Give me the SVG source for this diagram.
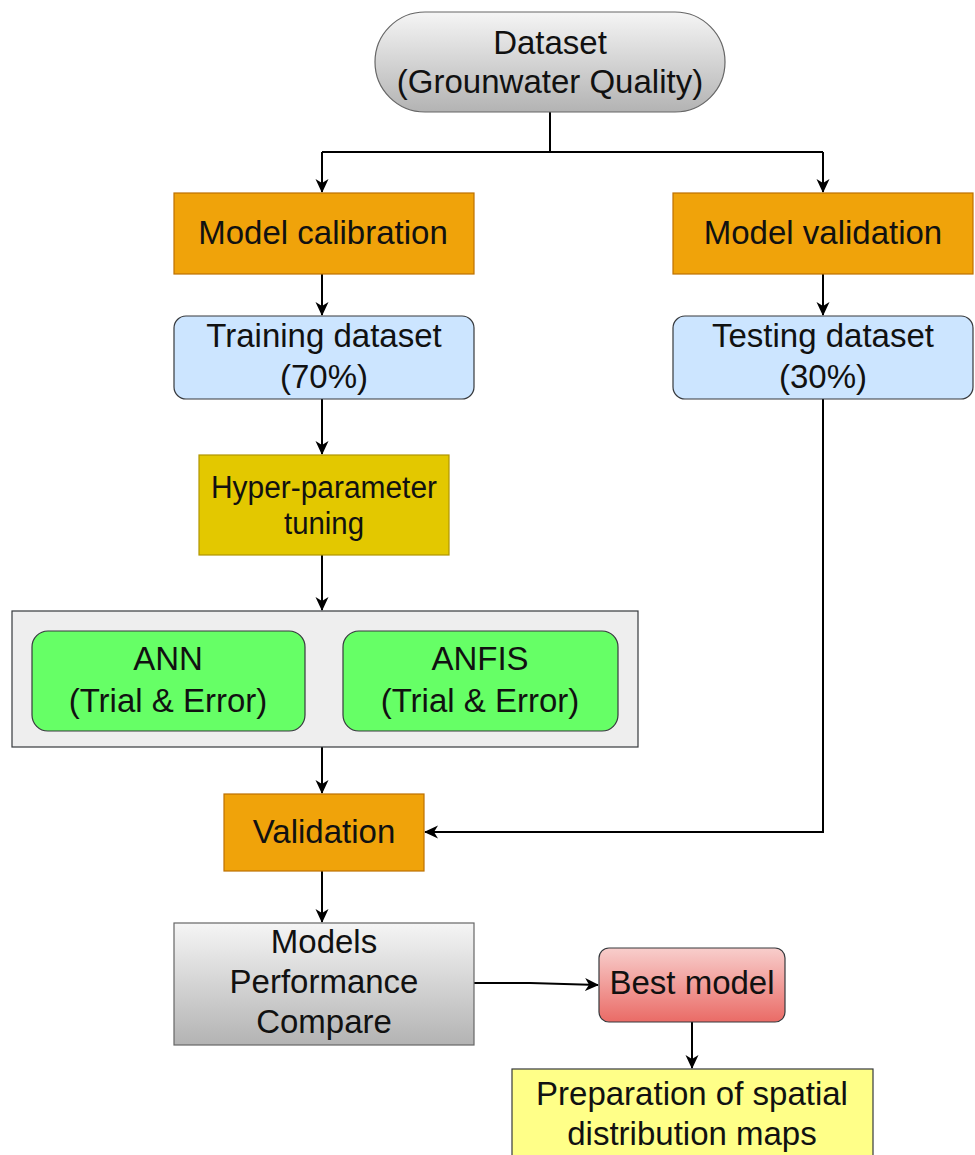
<svg xmlns="http://www.w3.org/2000/svg" width="975" height="1155" viewBox="0 0 975 1155">
<style>
text{font-family:"Liberation Sans",Arial,sans-serif;font-size:33px;fill:#111;text-anchor:middle}
.c{fill:none;stroke:#000;stroke-width:2}
.orange{fill:#f0a30a;stroke:#bd7000;stroke-width:1.2}
.blue{fill:#cce5ff;stroke:#36393d;stroke-width:1.2}
.green{fill:#66ff66;stroke:#36393d;stroke-width:1.2}
</style>
<defs>
<marker id="ah" markerUnits="userSpaceOnUse" markerWidth="15" markerHeight="14" refX="13" refY="6.5" orient="auto" viewBox="0 0 15 13">
<path d="M0,0 L14,6.5 L0,13 L4,6.5 z" fill="#000"/>
</marker>
<linearGradient id="gray" x1="0" y1="0" x2="0" y2="1"><stop offset="0" stop-color="#f5f5f5"/><stop offset="1" stop-color="#b3b3b3"/></linearGradient>
<linearGradient id="red" x1="0" y1="0" x2="0" y2="1"><stop offset="0" stop-color="#f8cecc"/><stop offset="1" stop-color="#ea6b66"/></linearGradient>
</defs>
<g id="connectors">
<path class="c" d="M550,112 V152 M322,152 H823"/>
<path class="c" d="M322,152 V192" marker-end="url(#ah)"/>
<path class="c" d="M823,152 V192" marker-end="url(#ah)"/>
<path class="c" d="M322,274 V315" marker-end="url(#ah)"/>
<path class="c" d="M823,274 V315" marker-end="url(#ah)"/>
<path class="c" d="M322,399 V454" marker-end="url(#ah)"/>
<path class="c" d="M322,555 V610" marker-end="url(#ah)"/>
<path class="c" d="M322,747 V793" marker-end="url(#ah)"/>
<path class="c" d="M823,399 V832 H425" marker-end="url(#ah)"/>
<path class="c" d="M322,871 V922" marker-end="url(#ah)"/>
<path class="c" d="M474,983 H530 L598,985" marker-end="url(#ah)"/>
<path class="c" d="M692,1022 V1068" marker-end="url(#ah)"/>
</g>
<g id="dataset">
<rect x="375" y="12" width="350" height="100" rx="50" fill="url(#gray)" stroke="#666" stroke-width="1.2"/>
<text x="550" y="54">Dataset</text>
<text x="550" y="93">(Grounwater Quality)</text>
</g>
<g id="model-calibration">
<rect class="orange" x="174" y="193" width="300" height="81"/>
<text x="323" y="244">Model calibration</text>
</g>
<g id="model-validation">
<rect class="orange" x="673" y="193" width="300" height="81"/>
<text x="823" y="244">Model validation</text>
</g>
<g id="training">
<rect class="blue" x="174" y="316" width="300" height="83" rx="12"/>
<text x="324" y="347">Training dataset</text>
<text x="324" y="388">(70%)</text>
</g>
<g id="testing">
<rect class="blue" x="673" y="316" width="300" height="83" rx="12"/>
<text x="823" y="347">Testing dataset</text>
<text x="823" y="388">(30%)</text>
</g>
<g id="hyper">
<rect x="199" y="455" width="250" height="100" fill="#e3c800" stroke="#b09500" stroke-width="1.2"/>
<text x="324" y="498" style="font-size:31px" textLength="226" lengthAdjust="spacingAndGlyphs">Hyper-parameter</text>
<text x="324" y="534" style="font-size:31px" textLength="80" lengthAdjust="spacingAndGlyphs">tuning</text>
</g>
<g id="models-container">
<rect x="12" y="611" width="626" height="136" fill="#eeeeee" stroke="#36393d" stroke-width="1.2"/>
</g>
<g id="ann">
<rect class="green" x="32" y="631" width="273" height="100" rx="16"/>
<text x="168" y="670">ANN</text>
<text x="168" y="712">(Trial &amp; Error)</text>
</g>
<g id="anfis">
<rect class="green" x="343" y="631" width="275" height="100" rx="16"/>
<text x="480" y="670">ANFIS</text>
<text x="480" y="712">(Trial &amp; Error)</text>
</g>
<g id="validation">
<rect class="orange" x="224" y="794" width="200" height="77"/>
<text x="324" y="843">Validation</text>
</g>
<g id="compare">
<rect x="174" y="923" width="300" height="122" fill="url(#gray)" stroke="#666" stroke-width="1.2"/>
<text x="324" y="953">Models</text>
<text x="324" y="993">Performance</text>
<text x="324" y="1033">Compare</text>
</g>
<g id="best-model">
<rect x="599" y="948" width="186" height="74" rx="10" fill="url(#red)" stroke="#36393d" stroke-width="1.2"/>
<text x="692" y="994">Best model</text>
</g>
<g id="maps">
<rect x="512" y="1069" width="361" height="100" fill="#ffff88" stroke="#36393d" stroke-width="1.2"/>
<text x="692" y="1105">Preparation of spatial</text>
<text x="692" y="1145">distribution maps</text>
</g>
</svg>
